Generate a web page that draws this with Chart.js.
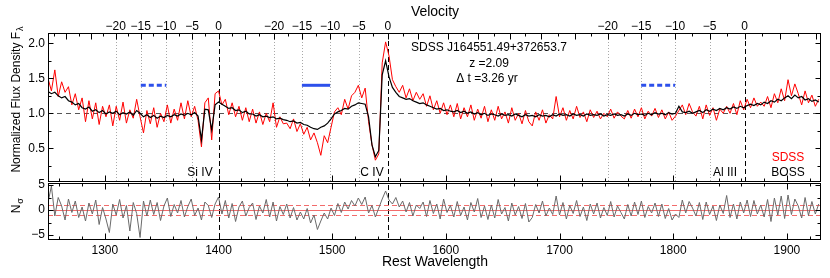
<!DOCTYPE html>
<html>
<head>
<meta charset="utf-8">
<script src="https://cdn.jsdelivr.net/npm/chart.js@4.4.1/dist/chart.umd.min.js"></script>
<style>
  html, body { margin: 0; padding: 0; background: #fff; }
</style>
</head>
<body>
<canvas id="spec" width="830" height="278"></canvas>
<script>
// spectra sampled every 3 A from 1250 A (one row = 30 A)
const lambdaStart = 1250;
const lambdaStep = 3;

const bossFlux = [
  1.31, 1.28, 1.30, 1.25, 1.22, 1.24, 1.18, 1.16, 1.12, 1.14,
  1.08, 1.06, 1.09, 1.03, 1.05, 1.01, 1.04, 0.99, 1.02, 1.00,
  1.03, 0.98, 1.01, 0.99, 1.02, 0.97, 1.04, 1.00, 0.95, 0.98,
  0.94, 0.97, 0.93, 0.96, 0.94, 0.97, 0.95, 0.98, 0.96, 0.99,
  0.97, 1.00, 0.98, 1.01, 0.96, 0.62, 1.06, 1.05, 0.76, 1.12,
  1.16, 1.13, 1.10, 1.07, 1.08, 1.04, 1.05, 1.01, 1.03, 0.99,
  0.99, 0.96, 0.98, 0.95, 0.96, 0.94, 0.95, 0.92, 0.93, 0.91,
  0.90, 0.88, 0.89, 0.86, 0.87, 0.84, 0.83, 0.80, 0.78, 0.77,
  0.80, 0.82, 0.86, 0.92, 0.99, 1.02, 1.04, 1.07, 1.06, 1.10,
  1.12, 1.15, 1.14, 1.13, 0.95, 0.55, 0.38, 0.47, 1.55, 1.75,
  1.52, 1.37, 1.30, 1.24, 1.22, 1.20, 1.21, 1.18, 1.16, 1.14,
  1.15, 1.12, 1.10, 1.08, 1.06, 1.07, 1.04, 1.05, 1.03, 1.02,
  1.04, 1.01, 1.03, 1.00, 1.02, 0.99, 1.01, 0.98, 1.00, 0.97,
  0.99, 0.98, 0.96, 0.99, 0.97, 0.98, 0.96, 0.99, 0.97, 0.95,
  0.98, 0.96, 0.97, 0.95, 0.98, 0.96, 0.97, 0.95, 0.98, 0.96,
  0.99, 0.97, 0.98, 0.96, 0.99, 0.97, 0.98, 0.96, 0.99, 0.97,
  0.98, 0.97, 0.99, 0.96, 0.98, 0.97, 0.99, 0.97, 0.98, 0.96,
  0.99, 0.97, 1.00, 0.98, 0.99, 0.97, 1.00, 0.98, 1.01, 0.99,
  1.00, 0.98, 1.01, 0.99, 1.00, 1.10, 1.02, 1.01, 1.03, 1.00,
  1.02, 1.04, 1.01, 1.05, 1.03, 1.06, 1.04, 1.07, 1.05, 1.08,
  1.06, 1.09, 1.07, 1.10, 1.08, 1.11, 1.13, 1.11, 1.14, 1.12,
  1.16, 1.14, 1.18, 1.16, 1.20, 1.18, 1.22, 1.25, 1.21, 1.26,
  1.22, 1.24, 1.19, 1.21, 1.17, 1.19, 1.16
];

const sdssFlux = [
  1.50, 1.32, 1.62, 1.24, 1.45, 1.30, 1.38, 1.12, 1.28, 1.05,
  1.22, 0.88, 1.18, 0.92, 1.15, 0.84, 1.10, 0.95, 1.12, 0.82,
  1.10, 0.90, 1.16, 0.86, 1.05, 0.93, 1.20, 0.95, 0.72, 1.04,
  0.85, 1.08, 0.80, 1.00, 0.88, 1.12, 0.86, 1.06, 0.90, 1.15,
  0.92, 1.18, 0.95, 1.10, 0.90, 0.52, 1.15, 1.22, 0.62, 1.28,
  1.32, 1.12, 1.20, 0.98, 1.15, 0.95, 1.10, 0.90, 1.08, 0.88,
  1.06, 0.86, 1.02, 0.84, 1.00, 0.88, 1.15, 0.80, 0.95, 0.85,
  0.86, 0.78, 0.92, 0.74, 0.85, 0.70, 0.80, 0.62, 0.72, 0.58,
  0.40, 0.68, 0.58, 0.80, 1.02, 1.08, 0.98, 1.20, 1.06, 1.25,
  1.30, 1.40, 1.22, 1.36, 0.88, 0.55, 0.33, 0.42, 1.72, 2.02,
  1.82, 1.48, 1.38, 1.30, 1.40, 1.22, 1.35, 1.18, 1.30, 1.20,
  1.28, 1.10, 1.25, 1.05, 1.18, 1.00, 1.15, 0.98, 1.12, 0.95,
  1.14, 0.92, 1.08, 0.95, 1.12, 0.90, 1.06, 0.93, 1.10, 0.88,
  1.05, 0.90, 1.10, 0.92, 1.02, 0.86, 1.08, 0.90, 1.00, 0.85,
  1.04, 0.88, 0.82, 1.02, 0.90, 1.05, 0.86, 0.98, 0.92, 1.24,
  0.95, 1.08, 0.90, 1.04, 0.92, 1.10, 0.94, 1.02, 0.88, 1.05,
  0.94, 1.03, 0.92, 1.00, 0.95, 1.06, 0.93, 1.02, 0.96, 0.92,
  1.04, 0.93, 1.06, 0.95, 1.08, 0.92, 1.03, 0.96, 1.07, 0.94,
  1.05, 0.92, 1.02, 0.90, 0.96, 1.04, 1.12, 0.98, 1.14, 1.02,
  0.96, 1.10, 0.92, 1.12, 0.97, 1.08, 0.90, 1.06, 1.00, 1.10,
  1.00, 1.14, 0.98, 1.18, 1.05, 1.20, 1.08, 1.22, 1.10, 1.16,
  1.10, 1.24, 1.08, 1.28, 1.15, 1.35, 1.18, 1.48, 1.25, 1.42,
  1.28, 1.12, 1.32, 1.15, 1.26, 1.10, 1.20
];

const nSigma = [
  1.5, 4.8, -1.2, 2.5, 0.8, -2.0, 2.2, -0.5, 1.8, -1.5,
  0.6, -2.2, 1.4, -0.8, 2.0, -2.9, 0.5, -1.8, -4.5, 1.2,
  -1.0, 2.1, -1.6, 0.9, -4.2, 1.5, -0.7, -5.5, 1.8, -1.2,
  2.0, -0.9, 1.5, -2.1, 0.8, 2.4, -1.3, 1.1, -0.6, 1.9,
  -1.4, 0.7, 2.2, -1.1, 0.4, -2.0, 1.6, 0.9, -1.5, 1.2,
  2.6, -0.8, 1.9, -1.6, 1.3, -2.3, 0.6, 1.8, -1.2, 0.5,
  1.4, -1.9, 0.8, -0.6, 2.1, -1.4, 1.6, -2.2, 0.7, -0.9,
  1.2, -1.6, 0.5, -2.0, -0.4, -1.8, 0.3, -2.6, -1.0, -3.9,
  -2.2, -0.6, -1.8, 0.4, -1.1, 1.3, -0.5, 1.6, 0.2, 1.9,
  0.8, 2.4, 1.1, 2.6, -0.6, 0.9, -1.4, 0.4, 2.2, 3.8,
  2.0, 1.2, 2.5, 0.6, 1.8, -0.4, 1.5, -1.2, 1.0, 0.3,
  1.6, -1.3, 1.9, -0.7, 1.2, -1.8, 2.2, -0.5, 0.9, -1.4,
  1.7, -1.1, 0.6, -2.0, 1.5, -0.4, 2.3, -1.5, 0.8, -1.9,
  1.0, -1.6, 2.1, -0.8, 0.5, -2.2, 1.4, -1.0, 0.7, -1.7,
  1.3, -2.4, -1.5, 1.1, -0.6, 1.8, -1.2, 0.4, -0.9, 2.8,
  -1.0, 1.5, -1.8, 0.9, -0.7, 1.9, -1.3, 0.6, -2.1, 1.2,
  -0.8, 1.4, -1.6, 0.5, -1.1, 1.7, -1.4, 0.8, -0.5, -1.8,
  1.1, -1.2, 1.6, -0.9, 1.8, -1.5, 0.7, -0.6, 1.4, -1.3,
  1.2, -1.7, 0.3, -2.0, -0.8, -1.5, 2.0, -0.6, 1.7, 0.4,
  -1.2, 1.5, -1.9, 1.6, -0.9, 0.8, -2.1, 1.0, -0.7, 2.9,
  -1.5, 1.2, -1.8, 1.6, -0.6, 2.0, -1.3, 1.9, -0.8, 1.0,
  -1.4, 2.1, -2.3, 2.4, -1.0, 2.8, -1.7, 3.0, -0.9, 2.2,
  0.8, -1.6, 2.5, -1.1, 1.7, -0.8, 1.2
];

const lineNames = ['Si IV', 'C IV', 'Al III'];
const lineCenters = [1400, 1549, 1862.8];
// stretch of the top edge that carries each line's velocity ticks
const velAxisFrom = [1250, 1445, 1700];
const velAxisTo = [1445, 1700, 1930];
const zeroThroughResid = [true, true, false];
const troughSolid = [false, true, false];
const troughVel = [-15, -10];
const troughFlux = 1.4;
const velocityTicks = [-20, -15, -10, -5, 0];
const wavelengthTicks = [1300, 1400, 1500, 1600, 1700, 1800, 1900];
const fluxTicks = [0.5, 1.0, 1.5, 2.0];
const sigmaTicks = [-5, 0, 5];

const FONT = '"Liberation Sans", Arial, Helvetica, sans-serif';

function velToLambda(v, center) {
  const beta = v * 1000 / 299792.458;
  return center * Math.sqrt((1 + beta) / (1 - beta));
}

function toPoints(arr) {
  return arr.map((v, i) => ({ x: lambdaStart + i * lambdaStep, y: v }));
}

function minus(v) {
  return String(v).replace('-', '\u2212');
}

const overlay = {
  id: 'overlay',
  beforeDatasetsDraw(chart) {
    const { ctx, scales: { x, y, y2 } } = chart;
    const seg = (x1, y1, x2, y2_) => { ctx.beginPath(); ctx.moveTo(x1, y1); ctx.lineTo(x2, y2_); ctx.stroke(); };
    ctx.save();
    ctx.lineWidth = 1;

    // dotted velocity marks
    ctx.strokeStyle = '#a8a8a8';
    ctx.setLineDash([1, 2]);
    lineCenters.forEach(c => {
      velocityTicks.forEach(v => {
        if (v === 0) return;
        const px = Math.round(x.getPixelForValue(velToLambda(v, c))) + 0.5;
        seg(px, y.top, px, y.bottom);
      });
    });

    // line centres
    ctx.strokeStyle = '#000';
    ctx.setLineDash([5, 3]);
    lineCenters.forEach((c, i) => {
      const px = Math.round(x.getPixelForValue(c)) + 0.5;
      seg(px, y.top, px, zeroThroughResid[i] ? y2.bottom : y.bottom);
    });

    // continuum level
    ctx.strokeStyle = '#555';
    ctx.setLineDash([5, 4]);
    const py1 = Math.round(y.getPixelForValue(1)) + 0.5;
    seg(x.left, py1, x.right, py1);

    // residual reference lines
    ctx.strokeStyle = '#f26b6b';
    ctx.setLineDash([]);
    const p0 = Math.round(y2.getPixelForValue(0)) + 0.5;
    seg(x.left, p0, x.right, p0);
    ctx.setLineDash([5, 3]);
    [-1, 1].forEach(s => {
      const ps = Math.round(y2.getPixelForValue(s)) + 0.5;
      seg(x.left, ps, x.right, ps);
    });
    ctx.restore();
  },
  afterDatasetsDraw(chart) {
    const { ctx, scales: { x, y, y2 } } = chart;
    const seg = (x1, y1, x2, y2_) => { ctx.beginPath(); ctx.moveTo(x1, y1); ctx.lineTo(x2, y2_); ctx.stroke(); };
    ctx.save();

    // trough velocity ranges
    ctx.strokeStyle = 'rgb(45, 80, 235)';
    ctx.lineWidth = 3;
    lineCenters.forEach((c, i) => {
      ctx.setLineDash(troughSolid[i] ? [] : [5, 3]);
      const py = y.getPixelForValue(troughFlux);
      seg(x.getPixelForValue(velToLambda(troughVel[0], c)), py,
          x.getPixelForValue(velToLambda(troughVel[1], c)), py);
    });

    // panel frames
    ctx.setLineDash([]);
    ctx.lineWidth = 1;
    ctx.strokeStyle = '#000';
    const L = Math.round(x.left) + 0.5, R = Math.round(x.right) - 0.5;
    const T1 = Math.round(y.top) + 0.5, B1 = Math.round(y.bottom) - 0.5;
    const T2 = Math.round(y2.top) + 1.5, B2 = Math.round(y2.bottom) - 0.5;
    ctx.strokeRect(L, T1, R - L, B1 - T1);
    ctx.strokeRect(L, T2, R - L, B2 - T2);

    // wavelength ticks (inward)
    for (let w = 1260; w <= 1920; w += 20) {
      const major = w % 100 === 0;
      const len = major ? 6 : 3;
      const px = Math.round(x.getPixelForValue(w)) + 0.5;
      seg(px, B1, px, B1 - len);
      seg(px, T2, px, T2 + len);
      seg(px, B2, px, B2 - len);
    }

    // flux ticks left and right
    for (let f = 0.25; f <= 2.0001; f += 0.25) {
      const major = Math.abs(f * 2 - Math.round(f * 2)) < 1e-6;
      const len = major ? 5 : 3;
      const py = Math.round(y.getPixelForValue(f)) + 0.5;
      seg(L, py, L + len, py);
      seg(R, py, R - len, py);
    }
    for (let s = -5; s <= 5; s += 2.5) {
      const len = (s % 5 === 0) ? 5 : 3;
      const py = Math.round(y2.getPixelForValue(s)) + 0.5;
      seg(L, py, L + len, py);
      seg(R, py, R - len, py);
    }

    ctx.font = '12px ' + FONT;
    ctx.fillStyle = '#000';
    ctx.textBaseline = 'middle';

    // residual tick labels
    ctx.textAlign = 'right';
    sigmaTicks.forEach(s => ctx.fillText(minus(s), 45, y2.getPixelForValue(s)));

    // velocity axes on top
    ctx.textAlign = 'center';
    lineCenters.forEach((c, i) => {
      for (let v = -60; v <= 30; v += 2.5) {
        const lam = velToLambda(v, c);
        if (lam < velAxisFrom[i] || lam >= velAxisTo[i]) continue;
        const px = Math.round(x.getPixelForValue(lam)) + 0.5;
        if (px <= L + 1 || px >= R - 1) continue;
        const major = v % 5 === 0;
        seg(px, T1, px, T1 + (major ? 6 : 3));
      }
      velocityTicks.forEach(v => {
        ctx.fillText(minus(v), x.getPixelForValue(velToLambda(v, c)), 27);
      });
    });

    ctx.font = '14px ' + FONT;
    ctx.fillText('Velocity', 435, 12);
    ctx.fillText('Rest Wavelength', 435, 262);

    // object info
    ctx.font = '12px ' + FONT;
    ctx.fillText('SDSS J164551.49+372653.7', 489, 48);
    ctx.fillText('z =2.09', 489, 63.5);
    ctx.fillText('\u0394 t =3.26 yr', 487, 79);

    // line names
    const labelX = [200, 372, 725];
    lineNames.forEach((n, i) => ctx.fillText(n, labelX[i], 173));
    ctx.fillStyle = '#ff0000';
    ctx.fillText('SDSS', 788, 158);
    ctx.fillStyle = '#000';
    ctx.fillText('BOSS', 788, 173);

    // y titles with subscripts
    ctx.save();
    ctx.translate(17, 100);
    ctx.rotate(-Math.PI / 2);
    ctx.textAlign = 'left';
    const main = 'Normalized Flux Density F';
    ctx.font = '12px ' + FONT;
    const w1 = ctx.measureText(main).width;
    ctx.font = '9px ' + FONT;
    const w2 = ctx.measureText('\u03bb').width;
    const start = -(w1 + w2) / 2;
    ctx.font = '12px ' + FONT;
    ctx.fillText(main, start, 0);
    ctx.font = '9px ' + FONT;
    ctx.fillText('\u03bb', start + w1 + 1, 4);
    ctx.restore();

    ctx.save();
    ctx.translate(17, 206);
    ctx.rotate(-Math.PI / 2);
    ctx.textAlign = 'left';
    ctx.font = '12px ' + FONT;
    const wn = ctx.measureText('N').width;
    ctx.fillText('N', -wn / 2 - 3, 0);
    ctx.font = '9px ' + FONT;
    ctx.fillText('\u03c3', wn / 2 - 2, 4);
    ctx.restore();

    ctx.restore();
  }
};

new Chart(document.getElementById('spec'), {
  type: 'line',
  data: {
    datasets: [
      { label: 'BOSS', data: toPoints(bossFlux), yAxisID: 'y', borderColor: '#000', borderWidth: 1.2, pointRadius: 0, tension: 0 },
      { label: 'SDSS', data: toPoints(sdssFlux), yAxisID: 'y', borderColor: '#ff0000', borderWidth: 1, pointRadius: 0, tension: 0 },
      { label: 'N_sigma', data: toPoints(nSigma), yAxisID: 'y2', borderColor: '#6a6a6a', borderWidth: 1, pointRadius: 0, tension: 0 }
    ]
  },
  options: {
    responsive: false,
    animation: false,
    devicePixelRatio: 1,
    layout: { padding: { top: 33, right: 9, left: 0, bottom: 0 } },
    plugins: { legend: { display: false }, tooltip: { enabled: false } },
    scales: {
      x: {
        type: 'linear', min: 1250, max: 1930, position: 'bottom',
        grid: { display: false, drawTicks: false }, border: { display: false },
        afterBuildTicks: s => { s.ticks = wavelengthTicks.map(v => ({ value: v })); },
        afterFit: s => { s.height = 38.5; },
        ticks: { padding: 4, color: '#000', font: { family: FONT, size: 12 }, maxRotation: 0, autoSkip: false, callback: v => String(v) }
      },
      // the lower panel is listed first: left-side stacked scales are placed last-listed on top
      y2: {
        type: 'linear', min: -5.9, max: 5.7, position: 'left', stack: 'panels', stackWeight: 58,
        grid: { display: false, drawTicks: false }, border: { display: false },
        afterFit: s => { s.width = 48; },
        ticks: { display: false }
      },
      y: {
        type: 'linear', min: 0.026, max: 2.147, position: 'left', stack: 'panels', stackWeight: 148.5,
        grid: { display: false, drawTicks: false }, border: { display: false },
        afterBuildTicks: s => { s.ticks = fluxTicks.map(v => ({ value: v })); },
        afterFit: s => { s.width = 48; },
        ticks: { padding: 3, color: '#000', font: { family: FONT, size: 12 }, autoSkip: false, callback: v => v.toFixed(1) }
      }
    }
  },
  plugins: [overlay]
});
</script>
</body>
</html>
